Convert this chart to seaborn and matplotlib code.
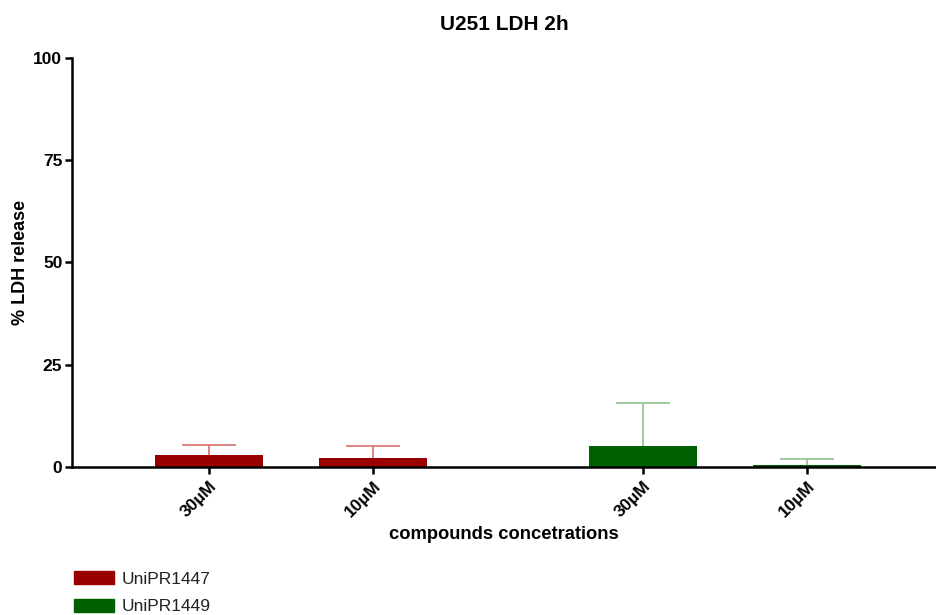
import pandas as pd
import seaborn as sns
import matplotlib.pyplot as plt
from matplotlib.patches import Patch

# values
compounds = ['UniPR1447', 'UniPR1447', 'UniPR1449', 'UniPR1449']
conc_labels = ['30\u00b5M', '10\u00b5M', '30\u00b5M', '10\u00b5M']
positions = [0.0, 1.0, 2.65, 3.65]
ldh_mean = [2.9, 2.2, 5.1, 0.6]
ldh_err = [2.5, 2.9, 10.5, 1.4]

bar_colors = {'UniPR1447': '#9b0000', 'UniPR1449': '#006000'}
err_colors = {'UniPR1447': '#d97070', 'UniPR1449': '#8fc08f'}


def create_plot():
    df = pd.DataFrame({'pos': positions, 'ldh': ldh_mean, 'err': ldh_err,
                       'compound': compounds, 'conc': conc_labels})

    sns.set_style('white')
    plt.rcParams['font.family'] = ['Liberation Sans', 'DejaVu Sans']
    plt.rcParams['text.color'] = 'black'
    plt.rcParams['axes.labelcolor'] = 'black'
    plt.rcParams['xtick.color'] = 'black'
    plt.rcParams['ytick.color'] = 'black'

    fig = plt.figure(figsize=(9.36, 6.15), dpi=100)
    ax = fig.add_axes([0.077, 0.2407, 0.923, 0.665])

    sns.barplot(data=df, x='pos', y='ldh', hue='compound', native_scale=True,
                dodge=False, width=0.66, palette=bar_colors, saturation=1,
                errorbar=None, legend=False, ax=ax, linewidth=0)

    # upper error bars only (stem + cap)
    cap = 0.165
    for _, row in df.iterrows():
        top = row['ldh'] + row['err']
        c = err_colors[row['compound']]
        ax.vlines(row['pos'], row['ldh'], top, color=c, linewidth=1.2, zorder=1)
        ax.hlines(top, row['pos'] - cap, row['pos'] + cap, color=c, linewidth=1.2, zorder=1)

    ax.set_xlim(-0.835, 4.437)
    ax.set_ylim(0, 100)
    ax.set_yticks([0, 25, 50, 75, 100])
    ax.set_xticks(positions)
    ax.set_xticklabels(conc_labels, rotation=45, ha='right', rotation_mode='anchor',
                       fontweight='bold', fontsize=12.5)
    for lab in ax.get_yticklabels():
        lab.set_fontweight('bold')
        lab.set_fontsize(12.5)

    ax.tick_params(axis='both', direction='out', length=5, width=1.8, color='black',
                   left=True, bottom=True)
    ax.tick_params(axis='y', pad=2)
    sns.despine(ax=ax)
    for side in ['left', 'bottom']:
        ax.spines[side].set_linewidth(1.8)
        ax.spines[side].set_color('black')

    ax.set_title('U251 LDH 2h', fontweight='bold', fontsize=15, pad=20)
    ax.set_xlabel('compounds concetrations', fontweight='bold', fontsize=13.2, labelpad=4)
    ax.set_ylabel('% LDH release', fontweight='bold', fontsize=13, labelpad=3)

    handles = [Patch(color=bar_colors[c]) for c in ['UniPR1447', 'UniPR1449']]
    fig.legend(handles, ['UniPR1447', 'UniPR1449'], loc='upper left',
               bbox_to_anchor=(0.072, 0.083), frameon=False, fontsize=12.5,
               handlelength=2.3, handleheight=0.8, handletextpad=0.45,
               labelspacing=0.7, borderaxespad=0, labelcolor='#222222')

    fig.savefig('out.png', dpi=100)


if __name__ == "__main__":
    create_plot()
